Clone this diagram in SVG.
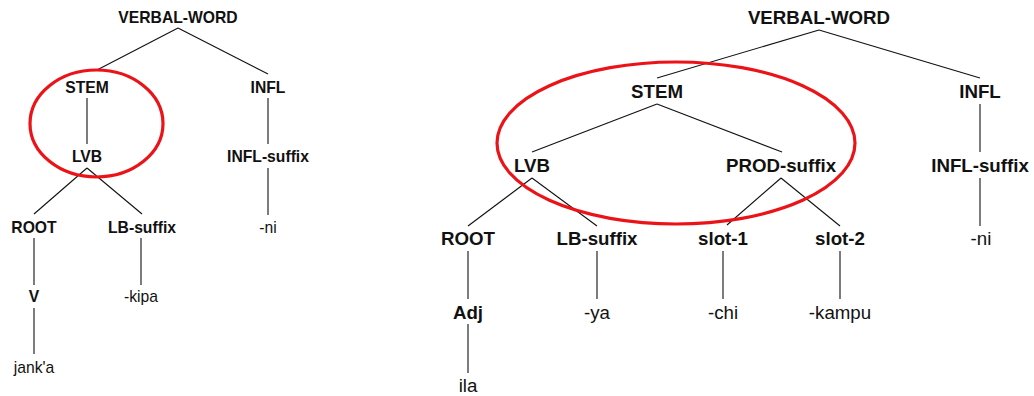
<svg xmlns="http://www.w3.org/2000/svg" width="1034" height="396" viewBox="0 0 1034 396">
  <style>
    text { font-family: "Liberation Sans", Arial, Helvetica, sans-serif; fill: #111; text-anchor: middle; }
    .sm { font-size: 15.7px; }
    .lg { font-size: 18.7px; }
    .cat { font-weight: bold; }
    .edges line { stroke: #111; stroke-width: 1.1; }
    .hl { fill: none; stroke: #ec1318; stroke-width: 3.2; }
  </style>
  <rect width="1034" height="396" fill="#fff"/>

  <!-- left tree: jank'a-kipa-ni -->
  <g class="edges" id="left-edges">
    <line x1="178" y1="28" x2="97" y2="70"/>
    <line x1="178" y1="28" x2="268" y2="74"/>
    <line x1="87" y1="98" x2="87" y2="144"/>
    <line x1="268" y1="98" x2="268" y2="144"/>
    <line x1="87" y1="168" x2="34" y2="214"/>
    <line x1="87" y1="168" x2="142" y2="214"/>
    <line x1="268" y1="168" x2="268" y2="215"/>
    <line x1="34" y1="238" x2="34" y2="285"/>
    <line x1="141" y1="238" x2="141" y2="285"/>
    <line x1="34" y1="308" x2="34" y2="354"/>
  </g>
  <g class="sm">
    <g id="l-verbal-word"><text class="cat" x="178" y="23">VERBAL-WORD</text></g>
    <g id="l-stem"><text class="cat" x="87" y="93">STEM</text></g>
    <g id="l-infl"><text class="cat" x="268" y="93">INFL</text></g>
    <g id="l-lvb"><text class="cat" x="87" y="162">LVB</text></g>
    <g id="l-infl-suffix"><text class="cat" x="268" y="162">INFL-suffix</text></g>
    <g id="l-root"><text class="cat" x="34" y="233">ROOT</text></g>
    <g id="l-lb-suffix"><text class="cat" x="142" y="233">LB-suffix</text></g>
    <g id="l-ni"><text x="268" y="233">-ni</text></g>
    <g id="l-v"><text class="cat" x="34" y="302">V</text></g>
    <g id="l-kipa"><text x="141" y="302">-kipa</text></g>
    <g id="l-jank-a"><text x="34" y="373">jank'a</text></g>
  </g>
  <ellipse class="hl" cx="96.5" cy="123.5" rx="66.5" ry="53.5"/>

  <!-- right tree: ila-ya-chi-kampu-ni -->
  <g class="edges" id="right-edges">
    <line x1="819" y1="30" x2="657" y2="78"/>
    <line x1="819" y1="30" x2="980" y2="78"/>
    <line x1="657" y1="104" x2="532" y2="152"/>
    <line x1="657" y1="104" x2="782" y2="152"/>
    <line x1="980" y1="104" x2="980" y2="152"/>
    <line x1="532" y1="178" x2="468" y2="226"/>
    <line x1="532" y1="178" x2="597" y2="226"/>
    <line x1="781" y1="178" x2="727" y2="225"/>
    <line x1="781" y1="178" x2="840" y2="226"/>
    <line x1="980" y1="178" x2="980" y2="226"/>
    <line x1="468" y1="251" x2="468" y2="299"/>
    <line x1="597" y1="251" x2="597" y2="299"/>
    <line x1="723" y1="251" x2="723" y2="299"/>
    <line x1="840" y1="251" x2="840" y2="299"/>
    <line x1="468" y1="324" x2="468" y2="373"/>
  </g>
  <g class="lg">
    <g id="r-verbal-word"><text class="cat" x="819" y="24">VERBAL-WORD</text></g>
    <g id="r-stem"><text class="cat" x="657" y="98">STEM</text></g>
    <g id="r-infl"><text class="cat" x="980" y="98">INFL</text></g>
    <g id="r-lvb"><text class="cat" x="532" y="172">LVB</text></g>
    <g id="r-prod-suffix"><text class="cat" x="781" y="172">PROD-suffix</text></g>
    <g id="r-infl-suffix"><text class="cat" x="980" y="172">INFL-suffix</text></g>
    <g id="r-root"><text class="cat" x="468" y="245">ROOT</text></g>
    <g id="r-lb-suffix"><text class="cat" x="597" y="245">LB-suffix</text></g>
    <g id="r-slot-1"><text class="cat" x="723" y="245">slot-1</text></g>
    <g id="r-slot-2"><text class="cat" x="840" y="245">slot-2</text></g>
    <g id="r-ni"><text x="981" y="245">-ni</text></g>
    <g id="r-adj"><text class="cat" x="468" y="319">Adj</text></g>
    <g id="r-ya"><text x="597" y="319">-ya</text></g>
    <g id="r-chi"><text x="723" y="319">-chi</text></g>
    <g id="r-kampu"><text x="840" y="319">-kampu</text></g>
    <g id="r-ila"><text x="468" y="392">ila</text></g>
  </g>
  <ellipse class="hl" cx="676" cy="143" rx="179" ry="81"/>
</svg>
